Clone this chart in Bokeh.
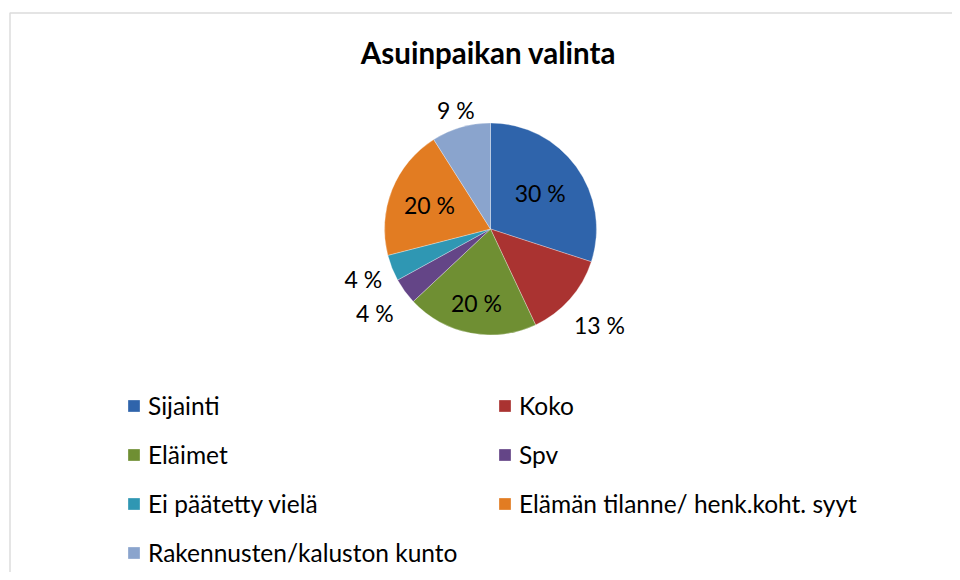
import numpy as np
from bokeh.plotting import figure
from bokeh.models import ColumnDataSource, Range1d, Legend, LegendItem, Label, BoxAnnotation
from bokeh.core.properties import value
from bokeh.embed import file_html
from bokeh.resources import INLINE

# ---- data ----
categories = ["Sijainti", "Koko", "Eläimet", "Spv", "Ei päätetty vielä",
              "Elämän tilanne/ henk.koht. syyt", "Rakennusten/kaluston kunto"]
percents = [30, 13, 20, 4, 4, 20, 9]
colors = ["#2F64AB", "#AA3331", "#6F8F33", "#644587", "#2F97B3", "#E27C22", "#8AA4CD"]
title_text = "Asuinpaikan valinta"

# ---- layout (styling, not data) ----
W, H = 952, 572
cx, cy, R = 482, 343.5, 106
label_r = [0.58, 1.37, 0.71, 1.35, 1.29, 0.62, 1.17]
FONT = "Lato"

vals = np.array(percents, dtype=float)
frac = vals / vals.sum()
cum = np.concatenate([[0], np.cumsum(frac)])
start = np.pi / 2 - cum[:-1] * 2 * np.pi
end = np.pi / 2 - cum[1:] * 2 * np.pi
mid = (start + end) / 2

src = ColumnDataSource(dict(
    cat=categories, start=start, end=end, color=colors,
    lx=[cx + f * R * np.cos(a) for f, a in zip(label_r, mid)],
    ly=[cy + f * R * np.sin(a) for f, a in zip(label_r, mid)],
    lab=[f"{int(round(v))} %" for v in frac * 100],
))

p = figure(width=W, height=H, x_range=Range1d(-8, W - 8), y_range=Range1d(572 - H, 572),
           output_backend="svg", toolbar_location=None, min_border=0)
p.axis.visible = False
p.grid.visible = False
p.outline_line_color = None
p.background_fill_color = "white"
p.border_fill_color = "white"

# chart area border
p.add_layout(BoxAnnotation(left=1.5, right=W + 20, bottom=-20, top=559.5,
                           fill_alpha=0, line_color="#8C8C8C", line_width=1.5))

r = p.wedge(x=cx, y=cy, radius=R, start_angle="start", end_angle="end",
            direction="clock", fill_color="color", line_color="white",
            line_width=0.6, line_alpha=0.5, source=src)

p.text(x="lx", y="ly", text="lab", source=src, text_align="center",
       text_baseline="middle", text_font=value(FONT), text_font_size="23px",
       text_color="black")

p.add_layout(Label(x=480, y=520, text=title_text, text_align="center",
                   text_baseline="alphabetic", text_font=FONT,
                   text_font_size="29.5px", text_font_style="bold", text_color="black"))

items = [LegendItem(label=c, renderers=[r], index=i) for i, c in enumerate(categories)]
legend = Legend(items=items, location=(126, 5), orientation="horizontal", ncols=2,
                glyph_width=15, glyph_height=15, label_standoff=7, label_width=329,
                label_height=24, spacing=20, padding=0, margin=0,
                border_line_color=None, background_fill_alpha=0,
                label_text_font=FONT, label_text_font_size="24.5px",
                label_text_color="black")
p.add_layout(legend)

open("out.html", "w").write(file_html(p, INLINE))
